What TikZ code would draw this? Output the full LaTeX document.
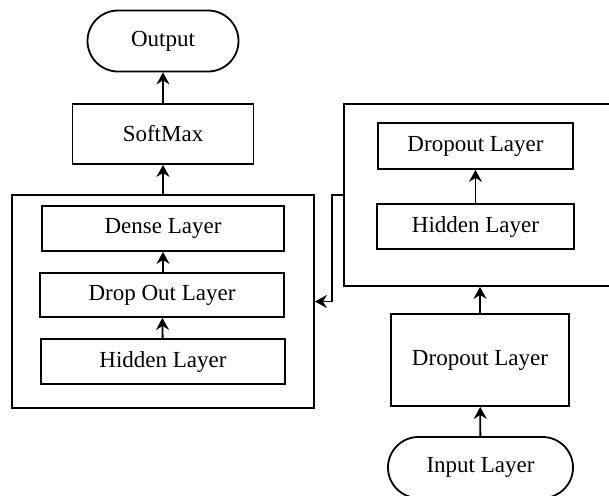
\documentclass[tikz,border=0pt]{standalone}
\usepackage{fontspec}
\setmainfont{Liberation Serif}
\usetikzlibrary{positioning, arrows.meta, shapes.misc}

\tikzset{
  layer/.style={draw, line width=1.8pt, rectangle, inner sep=0pt, align=center},
  term/.style={draw, line width=1.8pt, rounded rectangle, inner sep=0pt},
  group/.style={draw, line width=1.8pt, rectangle, inner sep=0pt},
  flow/.style={line width=1.8pt, -{Stealth[length=12pt,width=13pt,inset=4pt]}}
}

\begin{document}
\begin{tikzpicture}[x=1pt, y=-1pt, font=\fontsize{23}{27}\selectfont]
\useasboundingbox (0,0) rectangle (609,495);
\clip (0,0) rectangle (609,495);

% --- Groups ---
\node[group, minimum width=302pt, minimum height=213pt] (lbox) at (163,301.5) {};
\node[group, minimum width=276pt, minimum height=182pt] (rbox) at (482,195) {};

% --- Left column ---
\node[term, minimum width=151pt, minimum height=61pt] (out) at (163,41) {Output};
\node[layer, minimum width=181pt, minimum height=60pt] (soft) at (163,134) {SoftMax};
\node[layer, minimum width=242pt, minimum height=45pt] (dense) at (163,228.5) {Dense Layer};
\node[layer, minimum width=244pt, minimum height=44pt] (ldrop) at (162,295) {Drop Out Layer};
\node[layer, minimum width=244pt, minimum height=45pt] (lhid) at (163,361.5) {Hidden Layer};

% --- Right column ---
\node[layer, minimum width=195pt, minimum height=46pt] (rdrop) at (475.5,146) {Dropout Layer};
\node[layer, minimum width=197pt, minimum height=45pt] (rhid) at (475.5,226.5) {Hidden Layer};
\node[layer, minimum width=178pt, minimum height=92pt] (idrop) at (480,360) {Dropout Layer};
\node[term, minimum width=185pt, minimum height=61pt] (inp) at (480.5,467.5) {Input Layer};

% --- Connectors ---
\draw[flow] (inp) -- (idrop);
\draw[flow] (idrop.north) -- (idrop.north |- rbox.south);
\draw[flow] (rhid) -- (rdrop);
\draw[flow] (rbox.west) -- ++(-11,0) |- (lbox.east);
\draw[flow] (lhid) -- (ldrop);
\draw[flow] (ldrop.north -| dense) -- (dense);
\draw[flow] (lbox.north) -- (soft.south);
\draw[flow] (soft) -- (out);
\end{tikzpicture}
\end{document}
